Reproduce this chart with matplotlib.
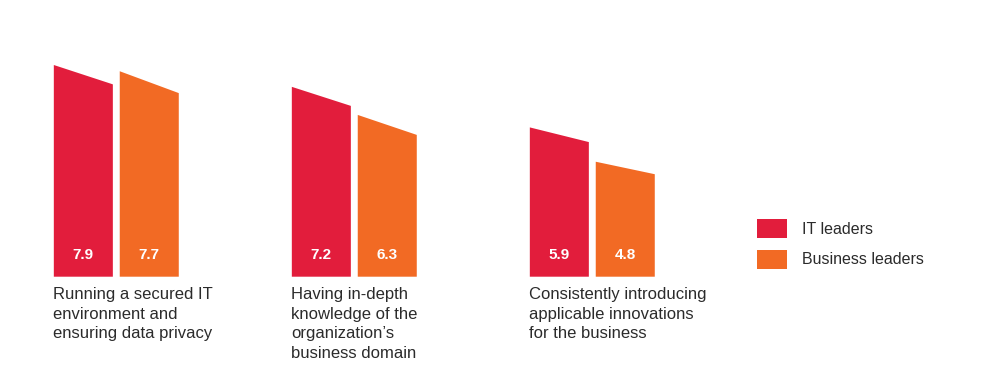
import matplotlib
matplotlib.use('Agg')
import matplotlib.pyplot as plt
import matplotlib.patches as pat

categories = ['Running a secured IT\nenvironment and\nensuring data privacy',
              'Having in-depth\nknowledge of the\norganization\u2019s\nbusiness domain',
              'Consistently introducing\napplicable innovations\nfor the business']
series_names = ['IT leaders', 'Business leaders']
it_leaders = [7.9, 7.2, 5.9]
business_leaders = [7.7, 6.3, 4.8]

colors = ['#E21D3C', '#F26A24']
slant = [[0.62, 0.70], [0.61, 0.64], [0.47, 0.40]]   # drop of the slanted top
y_floor = 1.115
bar_w = 0.248
gap = 0.029

plt.rcParams['font.family'] = ['Liberation Sans', 'DejaVu Sans']

fig = plt.figure(figsize=(10, 3.81), dpi=100)
ax = fig.add_axes([0, 104.3 / 381, 1, 276.7 / 381])
ax.set_xlim(-116.3 / 238, (1000 - 116.3) / 238)
ax.set_ylim(y_floor, y_floor + 276.7 / 31.2)
ax.axis('off')

for i, cat in enumerate(categories):
    vals = [it_leaders[i], business_leaders[i]]
    for j, v in enumerate(vals):
        x0 = i - bar_w - gap / 2 if j == 0 else i + gap / 2
        x1 = x0 + bar_w
        poly = pat.Polygon([(x0, y_floor), (x1, y_floor), (x1, v - slant[i][j]), (x0, v)],
                           closed=True, facecolor=colors[j], edgecolor='none')
        ax.add_patch(poly)
        ax.text((x0 + x1) / 2, y_floor + 0.68, '%.1f' % v, color='white',
                fontsize=11, fontweight='bold', ha='center', va='center')
    ax.text(i - bar_w - gap / 2 - 0.002, y_floor - 0.33, cat, color='#2b2b2b',
            fontsize=12, ha='left', va='top', linespacing=1.39, clip_on=False)

# legend
for j, name in enumerate(series_names):
    fig.patches.append(pat.Rectangle((757 / 1000, (381 - 238 - 31 * j) / 381), 30 / 1000, 19.5 / 381,
                                     transform=fig.transFigure, facecolor=colors[j], edgecolor='none'))
    fig.text(802 / 1000, (381 - 229 - 31 * j) / 381, name, color='#2b2b2b',
             fontsize=11.5, ha='left', va='center')

fig.savefig('out.png', dpi=100, facecolor='white')
